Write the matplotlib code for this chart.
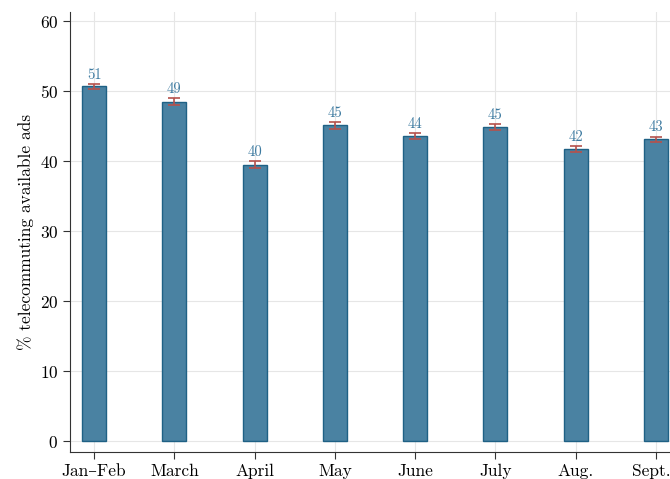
import matplotlib
matplotlib.use("Agg")
import matplotlib.pyplot as plt
import matplotlib.transforms as mtransforms
import numpy as np

plt.rcParams['font.family'] = ['cmr10', 'DejaVu Serif']
plt.rcParams['axes.formatter.use_mathtext'] = True
plt.rcParams['mathtext.fontset'] = 'cm'

categories = ["Jan\u2013Feb", "March", "April", "May", "June", "July", "Aug.", "Sept."]
values = [50.7, 48.5, 39.5, 45.1, 43.6, 44.9, 41.7, 43.1]
errors = [0.35, 0.5, 0.45, 0.5, 0.45, 0.45, 0.45, 0.4]
labels = ["51", "49", "40", "45", "44", "45", "42", "43"]

fig = plt.figure(figsize=(6.7, 4.79), dpi=100)
ax = fig.add_axes([70/670, 27/479, 626/670, 440/479])

x = np.arange(len(categories))
ax.bar(x, values, width=0.3, color="#4a82a2", edgecolor="#1f6185", linewidth=1.0, zorder=3)
ax.errorbar(x, values, yerr=errors, fmt="none", ecolor="#b5514c", elinewidth=1.2,
            capsize=4, capthick=1.2, zorder=4)
for xi, v, e, lab in zip(x, values, errors, labels):
    ax.text(xi, v + e + 0.3, lab, ha="center", va="bottom", fontsize=10.5,
            color="#3d7aa0", zorder=5)

ax.set_xlim(-0.3, 7.5)
ax.set_ylim(-1.57, 61.3)
ax.set_yticks([0, 10, 20, 30, 40, 50, 60])
ax.set_xticks(x)
ax.set_xticklabels(categories, fontsize=12.5)
ax.tick_params(axis="y", labelsize=12.5, length=5, width=0.8, color="#333333")
ax.tick_params(axis="x", length=5, width=0.8, color="#333333")
ax.set_ylabel("% telecommuting available ads", fontsize=12.5)
ax.grid(True, color="#e6e6e6", linewidth=0.8, zorder=0)
for s in ["top", "right"]:
    ax.spines[s].set_visible(False)
for s in ["left", "bottom"]:
    ax.spines[s].set_color("#333333")
    ax.spines[s].set_linewidth(0.8)

# keep the last (edge) tick label fully inside the figure, as in the reference
last = ax.get_xticklabels()[-1]
last.set_transform(last.get_transform() +
                   mtransforms.ScaledTranslation(-5/100, 0, fig.dpi_scale_trans))

fig.savefig("out.png", dpi=100)
